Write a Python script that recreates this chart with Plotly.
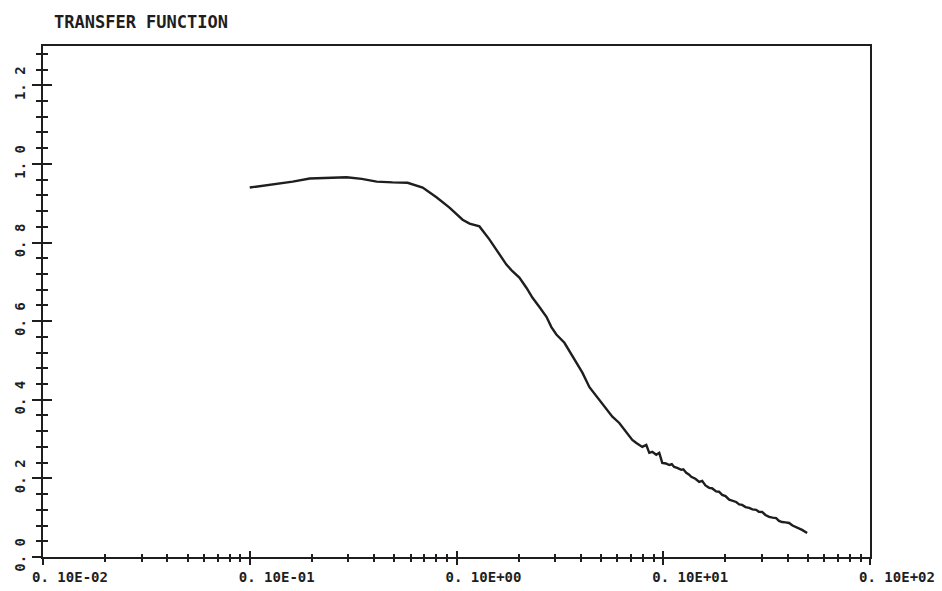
import plotly.graph_objects as go

# Transfer function magnitude versus frequency (log scale)
freq = [0.0100, 0.0125, 0.01614, 0.0195, 0.02435, 0.0294, 0.0348, 0.0411, 0.0491,
        0.0580, 0.0686, 0.0800, 0.0925, 0.1070, 0.1157, 0.1291, 0.1442, 0.1578,
        0.1743, 0.1864, 0.2014, 0.2178, 0.2328, 0.2518, 0.2723, 0.2877, 0.3041,
        0.3327, 0.3673, 0.4064, 0.4396, 0.4910, 0.5675, 0.6128, 0.6486, 0.7084,
        0.7413, 0.7918, 0.8279, 0.8559, 0.8849, 0.9252, 0.9566, 0.989, 1.03,
        1.069, 1.10, 1.130, 1.168, 1.222, 1.25, 1.292, 1.33, 1.366, 1.43,
        1.492, 1.543, 1.60, 1.668, 1.72, 1.803, 1.86, 1.928, 2.00, 2.084,
        2.16, 2.253, 2.33, 2.407, 2.50, 2.603, 2.70, 2.814, 2.90, 3.008,
        3.12, 3.252, 3.38, 3.515, 3.63, 3.757, 3.90, 4.062, 4.22, 4.390,
        4.55, 4.693, 4.966]
gain = [0.940, 0.947, 0.955, 0.963, 0.965, 0.966, 0.962, 0.955, 0.953,
        0.952, 0.940, 0.915, 0.889, 0.858, 0.848, 0.841, 0.808, 0.777,
        0.744, 0.727, 0.711, 0.685, 0.660, 0.636, 0.611, 0.585, 0.566,
        0.545, 0.506, 0.469, 0.432, 0.400, 0.357, 0.341, 0.325, 0.298,
        0.290, 0.280, 0.285, 0.265, 0.2675, 0.260, 0.265, 0.2395, 0.238,
        0.234, 0.236, 0.229, 0.2267, 0.2217, 0.223, 0.214, 0.210, 0.204, 0.199,
        0.191, 0.1936, 0.182, 0.176, 0.175, 0.167, 0.166, 0.158, 0.155, 0.146,
        0.144, 0.140, 0.134, 0.1325, 0.127, 0.125, 0.121, 0.120, 0.115, 0.1146,
        0.107, 0.102, 0.100, 0.099, 0.092, 0.089, 0.088, 0.0866, 0.080, 0.076,
        0.073, 0.069, 0.061]

x_ticks = [0.001, 0.01, 0.1, 1, 10]
x_labels = ["0. 10E-02", "0. 10E-01", "0. 10E+00", "0. 10E+01", "0. 10E+02"]
y_ticks = [0.0, 0.2, 0.4, 0.6, 0.8, 1.0, 1.2]
y_labels = ["0. 0", "0. 2", "0. 4", "0. 6", "0. 8", "1. 0", "1. 2"]

INK = "#1e1e1e"
FONT = "DejaVu Sans Mono"

x_minor = [k * d for d in x_ticks[:-1] for k in range(2, 10)]
y_minor = [round(i * 0.04, 2) for i in range(0, 33)]

fig = go.Figure()
fig.add_trace(go.Scatter(x=freq, y=gain, mode="lines",
                         line=dict(color=INK, width=2.4), showlegend=False))
# helper trace so the overlaid tick axes are drawn
fig.add_trace(go.Scatter(x=[], y=[], xaxis="x2", yaxis="y2", showlegend=False))

common_x = dict(type="log", range=[-3, 1], tickvals=x_ticks, showgrid=False,
                zeroline=False, tickcolor=INK, tickwidth=1.5, automargin=False)
common_y = dict(range=[0, 1.3], tickvals=y_ticks, showgrid=False,
                zeroline=False, tickcolor=INK, tickwidth=1.5, automargin=False)

fig.update_layout(
    width=942, height=591,
    margin=dict(l=43, r=72, t=46, b=34),
    paper_bgcolor="white", plot_bgcolor="white",
    xaxis=dict(**common_x, ticks="outside", ticklen=6,
               ticktext=x_labels, ticklabelshift=27,
               tickfont=dict(family=FONT, size=14, color=INK, weight="bold"),
               showline=True, linecolor=INK, linewidth=2, mirror=True,
               minor=dict(tickvals=x_minor, ticks="outside", ticklen=3,
                          tickcolor=INK, tickwidth=1.5)),
    yaxis=dict(**common_y, ticks="outside", ticklen=9,
               ticktext=y_labels, tickangle=-90, ticklabelstandoff=1,
               tickfont=dict(family=FONT, size=14, color=INK, weight="bold"),
               showline=True, linecolor=INK, linewidth=2, mirror=True,
               minor=dict(tickvals=y_minor, ticks="outside", ticklen=5,
                          tickcolor=INK, tickwidth=1.5)),
    xaxis2=dict(**common_x, overlaying="x", anchor="y", side="bottom",
                ticks="inside", ticklen=6, showticklabels=False, showline=False,
                minor=dict(tickvals=x_minor, ticks="inside", ticklen=3,
                           tickcolor=INK, tickwidth=1.5)),
    yaxis2=dict(**common_y, overlaying="y", anchor="x", side="left",
                ticks="inside", ticklen=9, showticklabels=False, showline=False,
                minor=dict(tickvals=y_minor, ticks="inside", ticklen=5,
                           tickcolor=INK, tickwidth=1.5)),
    annotations=[dict(text="TRANSFER FUNCTION", xref="paper", yref="paper",
                      x=0, y=1.0, xshift=9, yshift=24, xanchor="left", yanchor="middle",
                      showarrow=False,
                      font=dict(family=FONT, size=17, color=INK, weight="bold"))],
)

fig.write_html("out.html")
